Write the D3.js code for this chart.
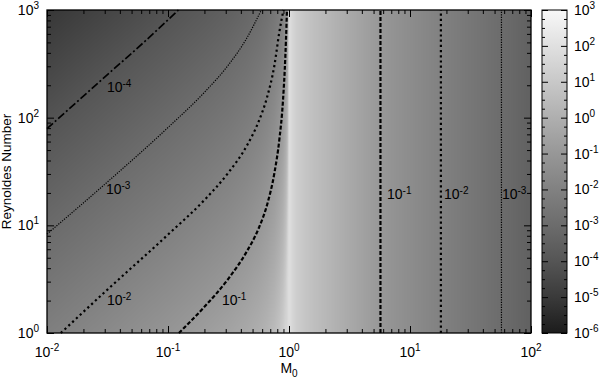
<!DOCTYPE html>
<html>
<head>
<meta charset="utf-8">
<script src="https://cdn.jsdelivr.net/npm/d3@7"></script>
<style>
  body { margin: 0; background: #fff; }
  svg { font-family: 'Liberation Sans', Arial, sans-serif; }
</style>
</head>
<body>
<svg width="600" height="380"></svg>
<script>
// log10 of the mapped quantity, read off the grey levels and contours
// columns: log10(M0), rows: log10(Reynolds number)
var machExpLeft = [-2, -1.5, -1, -0.7, -0.5, -0.35, -0.25, -0.18, -0.12, -0.08, -0.05, -0.03, -0.02, -0.01];
var machExpRight = [0, 0.01, 0.02, 0.04, 0.07, 0.12, 0.2, 0.3, 0.5, 0.75, 1, 1.25, 1.5, 1.75, 2];
var reExp = [0, 0.5, 1, 1.5, 2, 2.5, 3];

// right of M0 = 1 the field does not depend on Re
var valueRight = [1.9, 1.85, 1.7, 1.45, 1.2, 0.95, 0.65, 0.35, -0.25, -0.97, -1.48, -1.99, -2.49, -2.99, -3.49];
var valueLeftRe0 = [-2.10, -1.60, -1.09, -0.76, -0.51, -0.26, -0.03, 0.20, 0.49, 0.80, 1.15, 1.50, 1.50, 1.70];
var valueLeftRe05 = [-2.60, -2.10, -1.59, -1.26, -1.01, -0.76, -0.53, -0.30, -0.01, 0.30, 0.65, 1.06, 1.39, 1.70];
var valueLeftRe1 = [-3.10, -2.60, -2.09, -1.76, -1.51, -1.26, -1.03, -0.80, -0.51, -0.20, 0.15, 0.56, 0.89, 1.44];
var valueLeftRe15 = [-3.60, -3.10, -2.59, -2.26, -2.01, -1.76, -1.53, -1.30, -1.01, -0.70, -0.35, 0.06, 0.39, 0.94];
var valueLeftRe2 = [-4.10, -3.60, -3.09, -2.76, -2.51, -2.26, -2.03, -1.80, -1.51, -1.20, -0.85, -0.44, -0.11, 0.44];
var valueLeftRe25 = [-4.60, -4.10, -3.59, -3.26, -3.01, -2.76, -2.53, -2.30, -2.01, -1.75, -1.45, -1.00, -0.65, -0.06];
var valueLeftRe3 = [-5.10, -4.60, -4.09, -3.76, -3.51, -3.26, -3.03, -2.80, -2.55, -2.30, -2.05, -1.60, -1.15, -0.50];

// contour lines (M0, Re)
var c4M = [0.01, 0.0316, 0.0631, 0.122];
var c4Re = [79, 251, 501, 1000];
var c3M = [0.01, 0.0316, 0.1, 0.2, 0.316, 0.447, 0.59];
var c3Re = [8.3, 25.3, 81, 172, 309, 546, 1000];
var c2M = [0.013, 0.0316, 0.1, 0.2, 0.316, 0.447, 0.562, 0.661, 0.759, 0.832, 0.9];
var c2Re = [1, 2.53, 8.2, 17.2, 30.9, 54.6, 92.5, 157, 310, 624, 1000];
var c1M = [0.123, 0.2, 0.316, 0.447, 0.562, 0.661, 0.759, 0.832, 0.891, 0.933, 0.955, 0.962];
var c1Re = [1, 1.75, 3.2, 5.7, 9.4, 15.7, 31, 62.4, 142, 374, 774, 1000];
var vertM = [5.7, 18, 57];          // 1e-1, 1e-2, 1e-3 for M0 > 1

// contour labels
var labelText = ['-4', '-3', '-2', '-1', '-1', '-2', '-3'];
var labelM = [0.0313, 0.0307, 0.0313, 0.279, 6.46, 19.1, 57.5];
var labelRe = [173, 19.5, 1.82, 1.82, 17.7, 17.7, 17.7];

var xTickExp = [-2, -1, 0, 1, 2];
var yTickExp = [0, 1, 2, 3];
var barTickExp = [-6, -5, -4, -3, -2, -1, 0, 1, 2, 3];
var barGrey = ['#1c1c1c', '#3a3a3a', '#555555', '#6c6c6c', '#818181', '#979797', '#afafaf', '#c8c8c8', '#e0e0e0', '#f8f8f8'];

var svg = d3.select('svg');
var padding = {t: 10, l: 47};
var chartWidth = 484;
var chartHeight = 323;
var bar = {x: 542, w: 25};

var xScale = d3.scaleLog().domain([1e-2, 1e2]).range([padding.l, padding.l + chartWidth]);
var yScale = d3.scaleLog().domain([1, 1e3]).range([padding.t + chartHeight, padding.t]);
var barScale = d3.scaleLog().domain([1e-6, 1e3]).range([padding.t + chartHeight, padding.t]);
var grey = d3.scaleLinear().domain(barTickExp).range(barGrey).clamp(true);

var machExp = machExpLeft.concat(machExpRight);
var grid = [valueLeftRe0, valueLeftRe05, valueLeftRe1, valueLeftRe15, valueLeftRe2, valueLeftRe25, valueLeftRe3]
    .map(function(row) { return row.concat(valueRight); });

function cellAt(arr, v) {
    var i = d3.bisectRight(arr, v) - 1;
    i = Math.max(0, Math.min(arr.length - 2, i));
    var t = (v - arr[i]) / (arr[i + 1] - arr[i]);
    return [i, Math.max(0, Math.min(1, t))];
}

// heat map, drawn into a canvas and placed as an image
var canvas = document.createElement('canvas');
canvas.width = chartWidth;
canvas.height = chartHeight;
var ctx = canvas.getContext('2d');
var img = ctx.createImageData(chartWidth, chartHeight);
for (var j = 0; j < chartHeight; j++) {
    var ry = cellAt(reExp, Math.log10(yScale.invert(padding.t + j + 0.5)));
    for (var i = 0; i < chartWidth; i++) {
        var cx = cellAt(machExp, Math.log10(xScale.invert(padding.l + i + 0.5)));
        var r0 = grid[ry[0]], r1 = grid[ry[0] + 1];
        var a = r0[cx[0]] * (1 - cx[1]) + r0[cx[0] + 1] * cx[1];
        var b = r1[cx[0]] * (1 - cx[1]) + r1[cx[0] + 1] * cx[1];
        var c = d3.rgb(grey(a * (1 - ry[1]) + b * ry[1]));
        var k = 4 * (j * chartWidth + i);
        img.data[k] = c.r; img.data[k + 1] = c.g; img.data[k + 2] = c.b; img.data[k + 3] = 255;
    }
}
ctx.putImageData(img, 0, 0);

svg.append('image')
    .attr('x', padding.l).attr('y', padding.t)
    .attr('width', chartWidth).attr('height', chartHeight)
    .attr('preserveAspectRatio', 'none')
    .attr('href', canvas.toDataURL());

// contour lines
var chartG = svg.append('g');
var line = d3.line()
    .x(function(d) { return xScale(d[0]); })
    .y(function(d) { return yScale(d[1]); })
    .curve(d3.curveMonotoneX);

var contours = [
    {m: c4M, re: c4Re, w: 1.7, dash: '8,2.5,2,2.5'},
    {m: c3M, re: c3Re, w: 1.2, dash: '1.2,1.3'},
    {m: c2M, re: c2Re, w: 2.2, dash: '2.2,3'},
    {m: c1M, re: c1Re, w: 2.2, dash: '4,2'}
];
contours.forEach(function(c) {
    chartG.append('path')
        .datum(d3.zip(c.m, c.re))
        .attr('d', line)
        .attr('fill', 'none')
        .attr('stroke', '#000')
        .attr('stroke-width', c.w)
        .attr('stroke-dasharray', c.dash);
});

var vertStyle = [{w: 2.2, dash: '4,2'}, {w: 2.2, dash: '2.2,3'}, {w: 1.2, dash: '1.2,1.3'}];
vertM.forEach(function(m, i) {
    chartG.append('line')
        .attr('x1', xScale(m)).attr('x2', xScale(m))
        .attr('y1', yScale(1)).attr('y2', yScale(1e3))
        .attr('stroke', '#000')
        .attr('stroke-width', vertStyle[i].w)
        .attr('stroke-dasharray', vertStyle[i].dash);
});

function powText(sel, exp, supSize, supDy) {
    sel.append('tspan').text('10');
    sel.append('tspan').attr('dy', supDy).attr('font-size', supSize).text(exp);
}

labelText.forEach(function(t, i) {
    var txt = chartG.append('text')
        .attr('x', xScale(labelM[i]))
        .attr('y', yScale(labelRe[i]))
        .attr('font-size', '14px');
    powText(txt, t, '10px', -5);
});

// axes: ticks point inward on all four sides
function minorLog(lo, hi) {
    var out = [];
    for (var e = lo; e < hi; e++) {
        for (var m = 2; m < 10; m++) out.push(m * Math.pow(10, e));
    }
    return out;
}
var xMajor = xTickExp.map(function(e) { return Math.pow(10, e); });
var yMajor = yTickExp.map(function(e) { return Math.pow(10, e); });

function addAxis(axis, tx, ty) {
    var g = svg.append('g')
        .attr('transform', 'translate(' + tx + ',' + ty + ')')
        .call(axis.tickFormat(''));
    g.select('.domain').remove();
    g.selectAll('line').attr('stroke', '#000');
    return g;
}
var bottomY = padding.t + chartHeight, rightX = padding.l + chartWidth;
addAxis(d3.axisBottom(xScale).tickValues(xMajor).tickSize(-7), 0, bottomY);
addAxis(d3.axisBottom(xScale).tickValues(minorLog(-2, 2)).tickSize(-4), 0, bottomY);
addAxis(d3.axisTop(xScale).tickValues(xMajor).tickSize(-7), 0, padding.t);
addAxis(d3.axisTop(xScale).tickValues(minorLog(-2, 2)).tickSize(-4), 0, padding.t);
addAxis(d3.axisLeft(yScale).tickValues(yMajor).tickSize(-7), padding.l, 0);
addAxis(d3.axisLeft(yScale).tickValues(minorLog(0, 3)).tickSize(-4), padding.l, 0);
addAxis(d3.axisRight(yScale).tickValues(yMajor).tickSize(-7), rightX, 0);
addAxis(d3.axisRight(yScale).tickValues(minorLog(0, 3)).tickSize(-4), rightX, 0);

svg.append('rect')
    .attr('x', padding.l).attr('y', padding.t)
    .attr('width', chartWidth).attr('height', chartHeight)
    .attr('fill', 'none').attr('stroke', '#000').attr('stroke-width', 1.3);

xTickExp.forEach(function(e) {
    var t = svg.append('text')
        .attr('x', xScale(Math.pow(10, e)))
        .attr('y', 357)
        .attr('text-anchor', 'middle')
        .attr('font-size', '14px');
    powText(t, String(e), '10px', -6);
});
yTickExp.forEach(function(e) {
    var t = svg.append('text')
        .attr('x', 39)
        .attr('y', yScale(Math.pow(10, e)) + 5)
        .attr('text-anchor', 'end')
        .attr('font-size', '14px');
    powText(t, String(e), '10px', -6);
});

var xTitle = svg.append('text')
    .attr('x', 289).attr('y', 373)
    .attr('text-anchor', 'middle')
    .attr('font-size', '14px');
xTitle.append('tspan').text('M');
xTitle.append('tspan').attr('dy', 4).attr('font-size', '10px').text('0');

svg.append('text')
    .attr('transform', 'translate(11,' + (padding.t + chartHeight / 2) + ') rotate(-90)')
    .attr('text-anchor', 'middle')
    .attr('font-size', '13.5px')
    .text('Reynoldes Number');

// colour bar
var grad = svg.append('defs').append('linearGradient')
    .attr('id', 'bar-grad')
    .attr('x1', 0).attr('y1', 1).attr('x2', 0).attr('y2', 0);
grad.selectAll('stop')
    .data(barTickExp)
    .enter().append('stop')
    .attr('offset', function(d) { return (d - barTickExp[0]) / (barTickExp[barTickExp.length - 1] - barTickExp[0]); })
    .attr('stop-color', function(d) { return grey(d); });

svg.append('rect')
    .attr('x', bar.x).attr('y', padding.t)
    .attr('width', bar.w).attr('height', chartHeight)
    .attr('fill', 'url(#bar-grad)');

var barMajor = barTickExp.map(function(e) { return Math.pow(10, e); });
var barMinor = [];
barTickExp.slice(0, -1).forEach(function(e) {
    [0.25, 0.5, 0.75].forEach(function(f) { barMinor.push(Math.pow(10, e + f)); });
});
addAxis(d3.axisLeft(barScale).tickValues(barMajor).tickSize(-6), bar.x, 0);
addAxis(d3.axisLeft(barScale).tickValues(barMinor).tickSize(-3), bar.x, 0);
addAxis(d3.axisRight(barScale).tickValues(barMajor).tickSize(-6), bar.x + bar.w, 0);
addAxis(d3.axisRight(barScale).tickValues(barMinor).tickSize(-3), bar.x + bar.w, 0);

svg.append('rect')
    .attr('x', bar.x).attr('y', padding.t)
    .attr('width', bar.w).attr('height', chartHeight)
    .attr('fill', 'none').attr('stroke', '#000').attr('stroke-width', 1);

barTickExp.forEach(function(e) {
    var t = svg.append('text')
        .attr('x', 574)
        .attr('y', barScale(Math.pow(10, e)) + 5)
        .attr('font-size', '14px');
    powText(t, String(e), '10px', -6);
});
</script>
</body>
</html>
